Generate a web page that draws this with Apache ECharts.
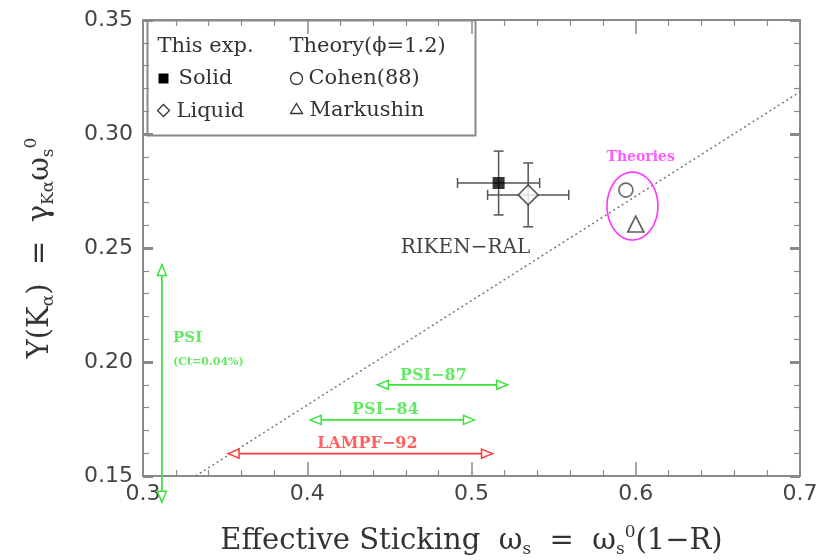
<!DOCTYPE html>
<html>
<head>
<meta charset="utf-8">
<script src="https://cdn.jsdelivr.net/npm/echarts@6/dist/echarts.min.js"></script>
<style>html,body{margin:0;padding:0;background:#fff;}#c{width:836px;height:560px;}</style>
</head>
<body>
<div id="c"></div>
<script>
// ---- data ----
const xRange = [0.3, 0.7];
const yRange = [0.15, 0.35];
// fit line (two end points)
const fitX = [0.332, 0.7];
const fitY = [0.15, 0.3185];
// This experiment: [x, y, xErr, yErr]
const solid = [[0.5165, 0.2785, 0.025, 0.014]];
const liquid = [[0.5345, 0.2733, 0.0247, 0.014]];
// Theories
const cohen = [[0.594, 0.2754]];
const markushin = [[0.6, 0.2605]];
// ellipse around theories: [cx, cy, rx, ry]
const theoryEllipse = [[0.598, 0.2684, 0.0155, 0.0149]];
// range arrows [x1, y1, x2, y2]
const greenArrows = [
  [0.3115, 0.1385, 0.3115, 0.2428],
  [0.4427, 0.19, 0.522, 0.19],
  [0.4018, 0.1746, 0.5018, 0.1746]
];
const redArrows = [
  [0.3518, 0.1598, 0.5128, 0.1598]
];
// annotations [x, y, text]
const blackNotes = [[0.4963, 0.25, 'RIKEN\u2212RAL']];
const greenNotes = [[0.4768, 0.1939, 'PSI\u221287'], [0.4476, 0.1789, 'PSI\u221284']];
const greenLeftNotes = [[0.3183, 0.2105, 'PSI']];
const greenSmallNotes = [[0.3183, 0.2, '(Ct=0.04%)']];
const redNotes = [[0.4366, 0.164, 'LAMPF\u221292']];
const magentaNotes = [[0.603, 0.2897, 'Theories']];

const GREEN = '#3de33d', RED = '#ff3838', MAG = '#ff33ff';
const FRAME = '#8a8a8a';

function arrowRender(color) {
  return function (params, api) {
    const p1 = api.coord([api.value(0), api.value(1)]);
    const p2 = api.coord([api.value(2), api.value(3)]);
    const dx = p2[0] - p1[0], dy = p2[1] - p1[1];
    const L = Math.hypot(dx, dy);
    const ux = dx / L, uy = dy / L, px = -uy, py = ux;
    const hl = 11, hw = 4.5;
    function head(t, sx, sy) {
      return {
        type: 'polygon',
        shape: { points: [t, [t[0] - sx * hl + px * hw, t[1] - sy * hl + py * hw], [t[0] - sx * hl - px * hw, t[1] - sy * hl - py * hw]] },
        style: { fill: '#fff', stroke: color, lineWidth: 1.5 }
      };
    }
    return {
      type: 'group',
      children: [
        { type: 'line', shape: { x1: p1[0], y1: p1[1], x2: p2[0], y2: p2[1] }, style: { stroke: color, lineWidth: 1.8 } },
        head(p1, -ux, -uy),
        head(p2, ux, uy)
      ]
    };
  };
}

function errRender(params, api) {
  const x = api.value(0), y = api.value(1), ex = api.value(2), ey = api.value(3);
  const l = api.coord([x - ex, y]), r = api.coord([x + ex, y]);
  const t = api.coord([x, y + ey]), b = api.coord([x, y - ey]);
  const c = 5;
  const st = { stroke: '#555', lineWidth: 1.5 };
  return {
    type: 'group',
    children: [
      { type: 'line', shape: { x1: l[0], y1: l[1], x2: r[0], y2: r[1] }, style: st },
      { type: 'line', shape: { x1: t[0], y1: t[1], x2: b[0], y2: b[1] }, style: st },
      { type: 'line', shape: { x1: l[0], y1: l[1] - c, x2: l[0], y2: l[1] + c }, style: st },
      { type: 'line', shape: { x1: r[0], y1: r[1] - c, x2: r[0], y2: r[1] + c }, style: st },
      { type: 'line', shape: { x1: t[0] - c, y1: t[1], x2: t[0] + c, y2: t[1] }, style: st },
      { type: 'line', shape: { x1: b[0] - c, y1: b[1], x2: b[0] + c, y2: b[1] }, style: st }
    ]
  };
}

function ellipseRender(params, api) {
  const cx = api.value(0), cy = api.value(1), rx = api.value(2), ry = api.value(3);
  const c = api.coord([cx, cy]);
  const prx = Math.abs(api.coord([cx + rx, cy])[0] - c[0]);
  const pry = Math.abs(api.coord([cx, cy + ry])[1] - c[1]);
  const pts = [];
  for (let i = 0; i < 72; i++) {
    const a = i / 72 * Math.PI * 2;
    pts.push([c[0] + prx * Math.cos(a), c[1] + pry * Math.sin(a)]);
  }
  return { type: 'polygon', shape: { points: pts }, style: { fill: 'none', stroke: MAG, lineWidth: 1.6 } };
}

function noteSeries(data, color, size, align, weight) {
  return {
    type: 'scatter', data: data, symbolSize: 0, silent: true, z: 6,
    label: {
      show: true, position: 'inside', align: align || 'center', verticalAlign: 'middle',
      formatter: p => p.data[2], color: color, fontFamily: 'DejaVu Serif', fontSize: size,
      fontWeight: weight || 'normal'
    }
  };
}

const axisCommonX = {
  type: 'value', min: xRange[0], max: xRange[1], interval: 0.1,
  axisLine: { show: true, lineStyle: { color: FRAME, width: 2 } },
  axisTick: { show: true, inside: true, length: 14, lineStyle: { color: FRAME, width: 1.5 } },
  minorTick: { show: true, splitNumber: 5, length: 6, lineStyle: { color: FRAME, width: 1.2 } },
  splitLine: { show: false }, minorSplitLine: { show: false }
};
const axisCommonY = {
  type: 'value', min: yRange[0], max: yRange[1], interval: 0.05,
  axisLine: { show: true, lineStyle: { color: FRAME, width: 2 } },
  axisTick: { show: true, inside: true, length: 10, lineStyle: { color: FRAME, width: 3 } },
  minorTick: { show: true, splitNumber: 5, length: 6, lineStyle: { color: FRAME, width: 1.2 } },
  splitLine: { show: false }, minorSplitLine: { show: false }
};
const nameFont = { fontFamily: 'DejaVu Serif', fontSize: 29, color: '#333' };
const subFont = { fontFamily: 'DejaVu Serif', fontSize: 17, color: '#333' };
const LF = '21px "DejaVu Serif"';

const chart = echarts.init(document.getElementById('c'));
chart.setOption({
  animation: false,
  backgroundColor: '#fff',
  grid: { left: 143, right: 36, top: 20, bottom: 84, containLabel: false, outerBoundsMode: 'none' },
  xAxis: [
    Object.assign({}, axisCommonX, {
      position: 'bottom',
      axisLabel: { show: true, margin: 7, formatter: v => v.toFixed(1), fontFamily: 'DejaVu Sans', fontSize: 22, color: '#444' },
      name: '{n|Effective Sticking  ω}{s|s}{n|  =  ω}{s|s}{p|0}{n|(1−R)}',
      nameLocation: 'middle', nameGap: 48,
      nameTextStyle: {
        rich: {
          n: Object.assign({ lineHeight: 34, verticalAlign: 'middle' }, nameFont),
          s: Object.assign({ lineHeight: 34, verticalAlign: 'bottom' }, subFont),
          p: Object.assign({ lineHeight: 34, verticalAlign: 'top' }, subFont)
        }
      }
    }),
    Object.assign({}, axisCommonX, { position: 'top', axisLabel: { show: false } })
  ],
  yAxis: [
    Object.assign({}, axisCommonY, {
      position: 'left',
      axisLabel: { show: true, margin: 10, formatter: v => v.toFixed(2), fontFamily: 'DejaVu Sans', fontSize: 22, color: '#444' },
      name: '{n|Y(K}{s|α}{n|)  =  γ}{s|Kα}{n|ω}{s|s}{p|0}',
      nameLocation: 'middle', nameGap: 86, nameRotate: 90,
      nameTextStyle: {
        rich: {
          n: Object.assign({ lineHeight: 34, verticalAlign: 'middle' }, nameFont),
          s: Object.assign({ lineHeight: 34, verticalAlign: 'bottom' }, subFont),
          p: Object.assign({ lineHeight: 34, verticalAlign: 'top' }, subFont)
        }
      }
    }),
    Object.assign({}, axisCommonY, { position: 'right', axisLabel: { show: false } })
  ],
  graphic: [
    {
      type: 'group', left: 145, top: 18, z: 10,
      children: [
        { type: 'rect', shape: { x: 0, y: 0, width: 328, height: 115 }, style: { fill: 'none', stroke: FRAME, lineWidth: 2 } },
        { type: 'text', x: 10, y: 26, style: { text: 'This exp.', font: LF, fill: '#333', verticalAlign: 'middle' } },
        { type: 'text', x: 142, y: 26, style: { text: 'Theory(ϕ=1.2)', font: LF, fill: '#333', verticalAlign: 'middle' } },
        { type: 'rect', shape: { x: 11, y: 53, width: 10, height: 10 }, style: { fill: '#000' } },
        { type: 'text', x: 31, y: 58, style: { text: 'Solid', font: LF, fill: '#333', verticalAlign: 'middle' } },
        { type: 'polygon', shape: { points: [[16, 84], [22, 90], [16, 96], [10, 90]] }, style: { fill: '#fff', stroke: '#333', lineWidth: 1.3 } },
        { type: 'text', x: 29, y: 91, style: { text: 'Liquid', font: LF, fill: '#333', verticalAlign: 'middle' } },
        { type: 'circle', shape: { cx: 149, cy: 58, r: 6 }, style: { fill: '#fff', stroke: '#333', lineWidth: 1.3 } },
        { type: 'text', x: 161, y: 58, style: { text: 'Cohen(88)', font: LF, fill: '#333', verticalAlign: 'middle' } },
        { type: 'polygon', shape: { points: [[149, 83], [155, 93], [143, 93]] }, style: { fill: '#fff', stroke: '#333', lineWidth: 1.3 } },
        { type: 'text', x: 162, y: 90, style: { text: 'Markushin', font: LF, fill: '#333', verticalAlign: 'middle' } }
      ]
    }
  ],
  series: [
    {
      type: 'line', data: fitX.map((x, i) => [x, fitY[i]]), symbol: 'none', silent: true, z: 2,
      lineStyle: { type: [2, 3], color: '#777', width: 1.5 }
    },
    { type: 'custom', renderItem: ellipseRender, data: theoryEllipse, silent: true, z: 3 },
    { type: 'custom', renderItem: arrowRender(GREEN), data: greenArrows, silent: true, z: 4, clip: false },
    { type: 'custom', renderItem: arrowRender(RED), data: redArrows, silent: true, z: 4, clip: false },
    { type: 'custom', renderItem: errRender, data: solid.concat(liquid), silent: true, z: 4 },
    { type: 'scatter', data: solid.map(d => [d[0], d[1]]), symbol: 'rect', symbolSize: 12, itemStyle: { color: '#000' }, z: 5 },
    { type: 'scatter', data: liquid.map(d => [d[0], d[1]]), symbol: 'diamond', symbolSize: 20, itemStyle: { color: '#fff', borderColor: '#333', borderWidth: 1.6 }, z: 5 },
    { type: 'scatter', data: cohen, symbol: 'circle', symbolSize: 14, itemStyle: { color: '#fff', borderColor: '#444', borderWidth: 1.6 }, z: 5 },
    { type: 'scatter', data: markushin, symbol: 'triangle', symbolSize: 16, itemStyle: { color: '#fff', borderColor: '#333', borderWidth: 1.6 }, z: 5 },
    noteSeries(blackNotes, '#111', 20),
    noteSeries(greenNotes, GREEN, 16, 'center', 'bold'),
    noteSeries(greenLeftNotes, GREEN, 15, 'left', 'bold'),
    noteSeries(greenSmallNotes, GREEN, 11, 'left', 'bold'),
    noteSeries(redNotes, RED, 16, 'center', 'bold'),
    noteSeries(magentaNotes, MAG, 14, 'center', 'bold')
  ]
});
</script>
</body>
</html>
